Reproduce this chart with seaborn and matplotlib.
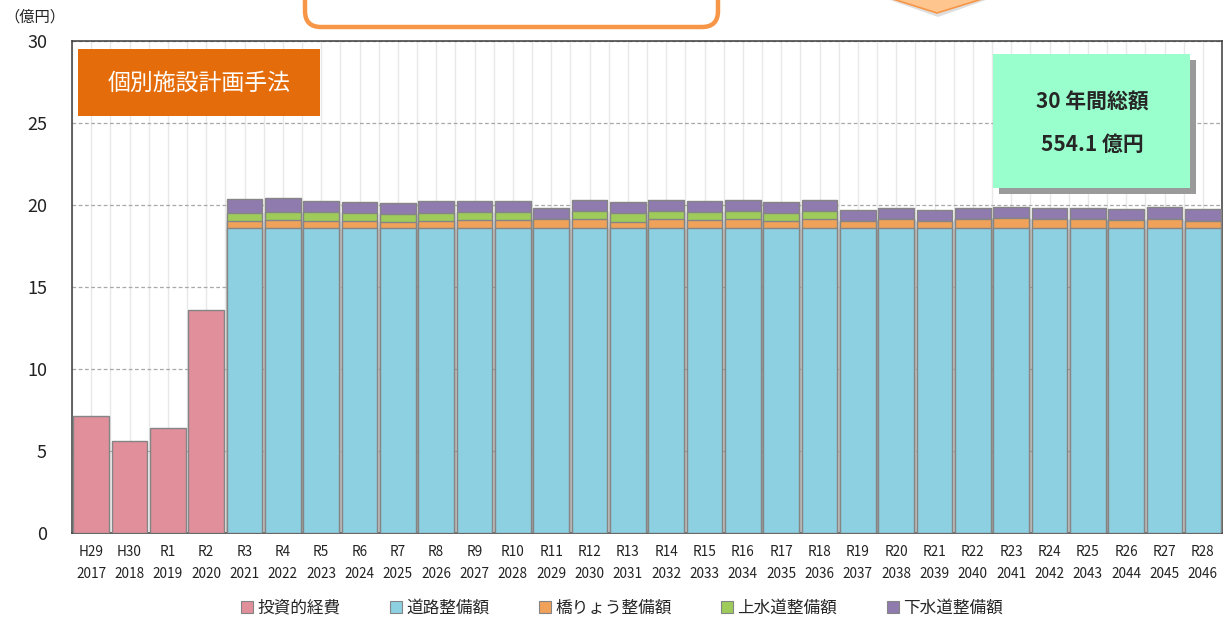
import numpy as np
import pandas as pd
import seaborn as sns
import matplotlib.pyplot as plt
from matplotlib.patches import Patch, Rectangle, FancyBboxPatch, Polygon
from matplotlib.transforms import IdentityTransform

nan = np.nan

# fiscal year labels (wareki / seireki)
era = ["H29", "H30", "R1", "R2", "R3", "R4", "R5", "R6", "R7", "R8",
       "R9", "R10", "R11", "R12", "R13", "R14", "R15", "R16", "R17", "R18",
       "R19", "R20", "R21", "R22", "R23", "R24", "R25", "R26", "R27", "R28"]
years = ["2017", "2018", "2019", "2020", "2021", "2022", "2023", "2024", "2025", "2026",
         "2027", "2028", "2029", "2030", "2031", "2032", "2033", "2034", "2035", "2036",
         "2037", "2038", "2039", "2040", "2041", "2042", "2043", "2044", "2045", "2046"]

# 億円
invest = [7.15, 5.61, 6.42, 13.6, nan, nan, nan, nan, nan, nan,
          nan, nan, nan, nan, nan, nan, nan, nan, nan, nan,
          nan, nan, nan, nan, nan, nan, nan, nan, nan, nan]
road = [nan, nan, nan, nan, 18.62, 18.62, 18.62, 18.62, 18.62, 18.62,
        18.62, 18.62, 18.62, 18.62, 18.62, 18.62, 18.62, 18.62, 18.62, 18.62,
        18.62, 18.62, 18.62, 18.62, 18.62, 18.62, 18.62, 18.62, 18.62, 18.62]
bridge = [nan, nan, nan, nan, 0.43, 0.49, 0.43, 0.39, 0.37, 0.43,
          0.49, 0.49, 0.53, 0.53, 0.37, 0.53, 0.47, 0.53, 0.41, 0.53,
          0.41, 0.53, 0.41, 0.51, 0.61, 0.55, 0.55, 0.49, 0.55, 0.43]
water = [nan, nan, nan, nan, 0.49, 0.49, 0.53, 0.49, 0.49, 0.49,
         0.47, 0.47, 0.0, 0.49, 0.51, 0.49, 0.49, 0.49, 0.51, 0.49,
         0.0, 0.0, 0.0, 0.0, 0.0, 0.0, 0.0, 0.0, 0.0, 0.0]
sewer = [nan, nan, nan, nan, 0.81, 0.81, 0.65, 0.67, 0.67, 0.69,
         0.69, 0.67, 0.67, 0.65, 0.67, 0.65, 0.65, 0.65, 0.67, 0.65,
         0.65, 0.65, 0.65, 0.67, 0.67, 0.67, 0.67, 0.67, 0.69, 0.69]

series_names = ["投資的経費", "道路整備額", "橋りょう整備額", "上水道整備額", "下水道整備額"]
colors = ["#E08F9B", "#8DD0E1", "#F0A25A", "#9ECB5A", "#8F7BAE"]
edge = "#858585"

xlab = [e + "\n" + y for e, y in zip(era, years)]

df = pd.DataFrame({"label": xlab, "invest": invest, "road": road,
                   "bridge": bridge, "water": water, "sewer": sewer})
df["l1"] = df["road"]
df["l2"] = df["l1"] + df["bridge"]
df["l3"] = df["l2"] + df["water"]
df["l4"] = df["l3"] + df["sewer"]

sns.set_style("white")
plt.rcParams["font.family"] = ["Noto Sans CJK JP", "DejaVu Sans"]

fig = plt.figure(figsize=(12.26, 6.2), dpi=100)
ax = fig.add_axes([72 / 1226, 1 - 533 / 620, 1150 / 1226, 492 / 620])

#tallest layer first, each next one covers the lower part
for col, c in [("l4", colors[4]), ("l3", colors[3]), ("l2", colors[2]),
               ("l1", colors[1]), ("invest", colors[0])]:
    sns.barplot(data=df, x="label", y=col, order=xlab, color=c, saturation=1,
                edgecolor=edge, linewidth=1, width=0.93, errorbar=None, ax=ax,
                zorder=3)

ax.set_xlim(-0.5, 29.5)
ax.set_ylim(0, 30)
ax.set_yticks([0, 5, 10, 15, 20, 25, 30])
ax.set_xticks(np.arange(-0.5, 30, 1), minor=True)
ax.set_axisbelow(True)
ax.yaxis.grid(True, linestyle=(0, (3, 2)), color="#A8A8A8", lw=0.9)
ax.xaxis.grid(True, which="both", color="#E8E8E8", lw=1)
ax.set_xlabel("")
ax.set_ylabel("")
ax.tick_params(axis="y", length=0, pad=18, labelsize=13, labelcolor="#222222")
ax.tick_params(axis="x", which="both", length=0, pad=9, labelsize=9.8, labelcolor="#222222")
for t in ax.get_xticklabels():
    t.set_linespacing(1.7)
for s in ax.spines.values():
    s.set_color("#3A3A3A")
    s.set_linewidth(1.1)

fig.text(4 / 1226, 1 - 17 / 620, "（億円）", fontsize=11, va="center", ha="left", color="#222222")

pix = IdentityTransform()
H = 620

# orange label box
fig.patches.append(Rectangle((78, H - 116), 242, 67, transform=pix,
                             facecolor="#E46C0A", edgecolor="none", zorder=5))
fig.text(199 / 1226, 1 - 83 / 620, "個別施設計画手法", color="white", fontsize=16.5,
         ha="center", va="center", zorder=6)

# total box with shadow
fig.patches.append(Rectangle((999, H - 194), 197, 134, transform=pix,
                             facecolor="#9A9A9A", edgecolor="none", zorder=5))
fig.patches.append(Rectangle((993, H - 188), 197, 134, transform=pix,
                             facecolor="#99FFCC", edgecolor="none", zorder=6))
fig.text(1092 / 1226, 1 - 102 / 620, "30 年間総額", fontsize=15, fontweight="bold",
         ha="center", va="center", zorder=7)
fig.text(1092 / 1226, 1 - 144 / 620, "554.1 億円", fontsize=15, fontweight="bold",
         ha="center", va="center", zorder=7)

# leftovers from the slide above the chart
fig.patches.append(FancyBboxPatch((305, H - 27), 413, 60, transform=pix,
                                  boxstyle="round,pad=0,rounding_size=16",
                                  facecolor="white", edgecolor="#F79646", lw=3.2, zorder=5))
fig.patches.append(Polygon([(876, H + 5), (1000, H + 5), (938, H - 17)], closed=True,
                           transform=pix, facecolor="#C8C8C8", edgecolor="none",
                           alpha=0.6, zorder=5))
fig.patches.append(Polygon([(880, H + 5), (995, H + 5), (937, H - 13)], closed=True,
                           transform=pix, facecolor="#FFC58F", edgecolor="#F79646",
                           lw=1.2, zorder=6))

handles = [Patch(facecolor=c, edgecolor=edge, lw=0.8) for c in colors]
fig.legend(handles, series_names, loc="center", bbox_to_anchor=(622 / 1226, 1 - 608 / 620),
           ncol=5, frameon=False, fontsize=12, handlelength=0.7, handleheight=0.7,
           handletextpad=0.25, columnspacing=3.0)

fig.savefig("out.png", dpi=100)
